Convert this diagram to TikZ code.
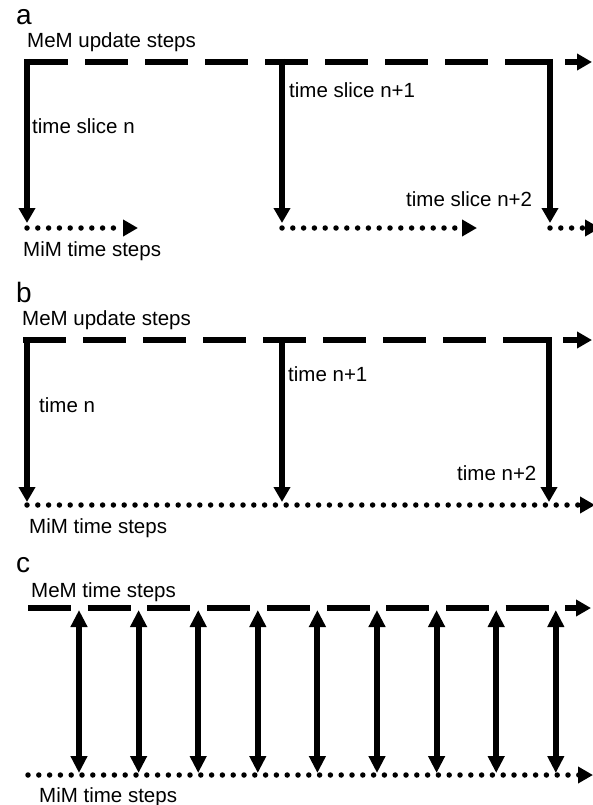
\documentclass[tikz,border=0pt]{standalone}
\usepackage{fontspec}
\setmainfont{Liberation Sans}
\usetikzlibrary{arrows.meta}

\begin{document}
\begin{tikzpicture}[x=1pt,y=-1pt,
    tip/.style={-{Triangle[length=15pt,width=16pt]}},
    mem/.style={line width=6.5pt,dash pattern=on 43pt off 17pt,tip},
    mim/.style={line width=5.5pt,line cap=round,dash pattern=on 0pt off 10.8pt,tip},
    slice/.style={line width=6pt,tip},
    couple/.style={line width=6pt,{Triangle[length=17pt,width=16pt]}-{Triangle[length=17pt,width=16pt]}},
    lbl/.style={anchor=base west,inner sep=0pt,font=\fontsize{20.5}{24}\selectfont},
    panel/.style={anchor=base west,inner sep=0pt,font=\fontsize{28}{32}\selectfont}]
    \useasboundingbox (0,0) rectangle (593,805);

    % a
    \node[panel] (a-tag) at (16,25) {a};
    \node[lbl] (a-mem) at (27,48) {MeM update steps};
    \node[lbl] (a-n) at (32,134) {time slice n};
    \node[lbl] (a-n1) at (289,98) {time slice n+1};
    \node[lbl] (a-n2) at (406,207) {time slice n+2};
    \node[lbl] (a-mim) at (23,256) {MiM time steps};
    \coordinate (a-ms) at (25,62);  \coordinate (a-me) at (592,62);
    \coordinate (a-t1) at (27,59);  \coordinate (a-b1) at (27,223);
    \coordinate (a-t2) at (282,59); \coordinate (a-b2) at (282,223);
    \coordinate (a-t3) at (550,59); \coordinate (a-b3) at (550,223);
    \coordinate (a-d1) at (27,228);  \coordinate (a-e1) at (138,228);
    \coordinate (a-d2) at (282,228); \coordinate (a-e2) at (477,228);
    \coordinate (a-d3) at (550,228); \coordinate (a-e3) at (600,228);
    \draw[mem] (a-ms) -- (a-me);
    \draw[slice] (a-t1) -- (a-b1);
    \draw[slice] (a-t2) -- (a-b2);
    \draw[slice] (a-t3) -- (a-b3);
    \draw[mim] (a-d1) -- (a-e1);
    \draw[mim] (a-d2) -- (a-e2);
    \draw[mim] (a-d3) -- (a-e3);

    % b
    \node[panel] (b-tag) at (16,302) {b};
    \node[lbl] (b-mem) at (22,325) {MeM update steps};
    \node[lbl] (b-n) at (39,412) {time n};
    \node[lbl] (b-n1) at (288,381) {time n+1};
    \node[lbl] (b-n2) at (457,480) {time n+2};
    \node[lbl] (b-mim) at (29,533) {MiM time steps};
    \coordinate (b-ms) at (23,340);  \coordinate (b-me) at (592,340);
    \coordinate (b-t1) at (27,337);  \coordinate (b-b1) at (27,502);
    \coordinate (b-t2) at (282,337); \coordinate (b-b2) at (282,502);
    \coordinate (b-t3) at (549,337); \coordinate (b-b3) at (549,502);
    \coordinate (b-ds) at (27,505);  \coordinate (b-de) at (595,505);
    \draw[mem] (b-ms) -- (b-me);
    \draw[slice] (b-t1) -- (b-b1);
    \draw[slice] (b-t2) -- (b-b2);
    \draw[slice] (b-t3) -- (b-b3);
    \draw[mim] (b-ds) -- (b-de);

    % c
    \node[panel] (c-tag) at (16,572) {c};
    \node[lbl] (c-mem) at (31,597) {MeM time steps};
    \node[lbl] (c-mim) at (39,802) {MiM time steps};
    \coordinate (c-ms) at (28,608); \coordinate (c-me) at (591,608);
    \coordinate (c-ds) at (28,775); \coordinate (c-de) at (593,775);
    \draw[mem,dash pattern=on 43pt off 16.7pt] (c-ms) -- (c-me);
    \draw[mim] (c-ds) -- (c-de);
    \foreach \i in {0,...,8}{
        \coordinate (c-t\i) at (79+59.6*\i,610);
        \coordinate (c-b\i) at (79+59.6*\i,773);
        \draw[couple] (c-t\i) -- (c-b\i);
    }
\end{tikzpicture}
\end{document}
